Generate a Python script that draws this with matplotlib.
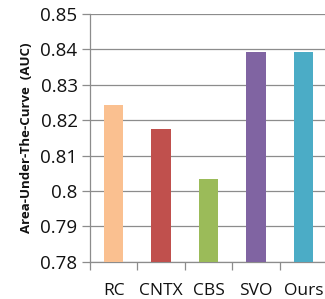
import matplotlib
matplotlib.use("Agg")
import matplotlib.pyplot as plt

methods = ["RC", "CNTX", "CBS", "SVO", "Ours"]
auc = [0.8243, 0.8175, 0.8034, 0.8392, 0.8394]
colors = ["#FAC090", "#C0504D", "#9BBB59", "#8064A2", "#4BACC6"]
yticks = [0.78, 0.79, 0.80, 0.81, 0.82, 0.83, 0.84, 0.85]
ytick_labels = ["0.78", "0.79", "0.8", "0.81", "0.82", "0.83", "0.84", "0.85"]

plt.rcParams["font.family"] = ["Open Sans", "DejaVu Sans"]

fig = plt.figure(figsize=(3.25, 2.99), dpi=100)
ax = fig.add_axes([90 / 325, 1 - 261.7 / 299, 237 / 325, (261.7 - 14) / 299])

x = list(range(len(methods)))
ax.bar(x, auc, width=0.41, color=colors, zorder=3)

ax.set_ylim(0.78, 0.85)
ax.set_xlim(-0.5, len(methods) - 0.5)
ax.set_yticks(yticks)
ax.set_yticklabels(ytick_labels, fontsize=13.5, color="#111111")
ax.yaxis.grid(True, color="#8c8c8c", linewidth=0.9, zorder=0)

# category boundary ticks below the axis
ax.set_xticks([i - 0.5 for i in range(len(methods) + 1)])
ax.set_xticklabels([])
ax.set_xticks(x, minor=True)
ax.set_xticklabels(methods, minor=True, fontsize=12.5, color="#111111")
ax.tick_params(axis="x", which="minor", length=0, pad=15)
ax.tick_params(axis="x", which="major", length=6, color="#8c8c8c", width=0.9)
ax.tick_params(axis="y", length=6, color="#8c8c8c", width=0.9, pad=3)

for side in ["top", "right"]:
    ax.spines[side].set_visible(False)
for side in ["left", "bottom"]:
    ax.spines[side].set_color("#8c8c8c")
    ax.spines[side].set_linewidth(0.9)

ax.set_ylabel("Area-Under-The-Curve  (AUC)", fontsize=9.5, fontweight="bold",
              color="#111111", labelpad=5)

fig.savefig("out.png", dpi=100)
